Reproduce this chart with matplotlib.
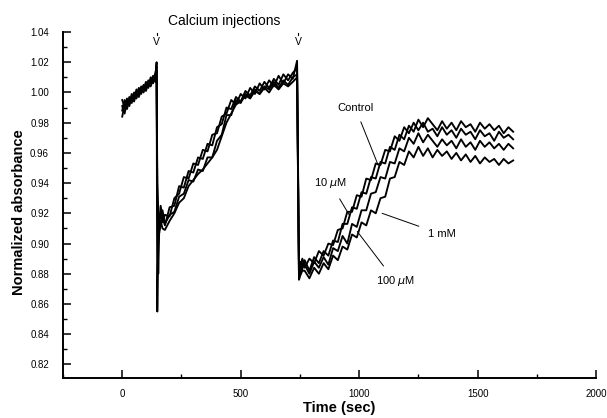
import matplotlib
matplotlib.use("Agg")
import matplotlib.pyplot as plt
from matplotlib.ticker import MultipleLocator, FormatStrFormatter

plt.rcParams['font.family'] = ['Liberation Sans', 'DejaVu Sans']

# Sampling times (sec)
time = [0, 10, 20, 30, 40, 50, 60, 70, 80, 90, 100, 110, 120, 130, 140, 145,
        148, 152, 156, 162, 170,
        180, 200, 220, 240, 260, 280, 300, 320, 340, 360, 380, 400, 420, 440,
        460, 480, 500, 520, 540, 560, 580, 600, 620, 640, 660, 680, 700, 720,
        738,
        746, 752, 760,
        770, 790, 810, 830, 850, 870, 890, 910, 930, 950, 970, 990, 1010, 1030,
        1050, 1070, 1090, 1110, 1130, 1150, 1170, 1190, 1210, 1230, 1250, 1270,
        1290, 1310, 1330, 1350, 1370, 1390, 1410, 1430, 1450, 1470, 1490, 1510,
        1530, 1550, 1570, 1590, 1610, 1630, 1650]

control = [0.988, 0.995, 0.992, 0.997, 0.995, 1.000, 0.998, 1.003, 1.001, 1.005, 1.003, 1.008, 1.006, 1.011, 1.010, 1.020,
           0.940, 0.922, 0.915, 0.920, 0.914,
           0.919, 0.918, 0.930, 0.933, 0.944, 0.943, 0.953, 0.952, 0.962, 0.961, 0.972, 0.973, 0.984, 0.986,
           0.995, 0.992, 0.999, 0.996, 1.003, 0.999, 1.006, 1.002, 1.008, 1.004, 1.011, 1.006, 1.012, 1.009,
           1.021,
           0.885, 0.880, 0.887,
           0.884, 0.890, 0.887, 0.895, 0.892, 0.900, 0.899, 0.909, 0.910, 0.921, 0.921, 0.932, 0.931, 0.943,
           0.942, 0.953, 0.952, 0.962, 0.961, 0.971, 0.968, 0.977, 0.973, 0.980, 0.975, 0.980,
           0.974, 0.976, 0.971, 0.977, 0.972, 0.975, 0.970, 0.976, 0.972, 0.974, 0.969, 0.975,
           0.971, 0.973, 0.968, 0.974, 0.970, 0.972, 0.969]

um10 = [0.995, 0.990, 0.996, 0.993, 0.999, 0.996, 1.002, 0.999, 1.004, 1.002, 1.007, 1.004, 1.010, 1.008, 1.013, 1.017,
        0.855, 0.905, 0.912, 0.925, 0.918,
        0.912, 0.924, 0.925, 0.938, 0.937, 0.948, 0.947, 0.957, 0.956, 0.966, 0.965, 0.977, 0.979, 0.990,
        0.989, 0.997, 0.994, 1.001, 0.998, 1.004, 1.001, 1.007, 1.003, 1.009, 1.005, 1.012, 1.008, 1.013,
        1.016,
        0.880, 0.888, 0.883,
        0.889, 0.882, 0.891, 0.887, 0.895, 0.892, 0.902, 0.901, 0.913, 0.913, 0.924, 0.923, 0.934, 0.933,
        0.944, 0.943, 0.954, 0.953, 0.964, 0.962, 0.972, 0.969, 0.978, 0.974, 0.982, 0.977,
        0.983, 0.979, 0.975, 0.981, 0.976, 0.980, 0.975, 0.981, 0.977, 0.979, 0.974, 0.980,
        0.976, 0.979, 0.975, 0.978, 0.973, 0.977, 0.974]

um100 = [0.984, 0.992, 0.989, 0.995, 0.993, 0.998, 0.996, 1.001, 0.999, 1.004, 1.001, 1.006, 1.004, 1.009, 1.007, 1.014,
         0.930, 0.880, 0.908, 0.912, 0.922,
         0.913, 0.919, 0.921, 0.931, 0.933, 0.942, 0.941, 0.949, 0.948, 0.957, 0.957, 0.968, 0.972, 0.985,
         0.985, 0.995, 0.993, 0.999, 0.997, 1.002, 0.999, 1.004, 1.002, 1.007, 1.003, 1.008, 1.005, 1.010,
         1.012,
         0.878, 0.884, 0.890,
         0.886, 0.880, 0.888, 0.884, 0.891, 0.886, 0.897, 0.895, 0.905, 0.900, 0.913, 0.911, 0.922, 0.922,
         0.933, 0.934, 0.944, 0.943, 0.954, 0.953, 0.963, 0.961, 0.970, 0.966, 0.973, 0.967,
         0.972, 0.968, 0.964, 0.969, 0.965, 0.968, 0.963, 0.969, 0.964, 0.967, 0.962, 0.968,
         0.964, 0.967, 0.963, 0.966, 0.962, 0.966, 0.963]

mm1 = [0.991, 0.986, 0.994, 0.991, 0.997, 0.994, 1.000, 0.997, 1.002, 1.000, 1.005, 1.003, 1.008, 1.006, 1.011, 1.015,
       0.925, 0.912, 0.907, 0.915, 0.910,
       0.909, 0.915, 0.920, 0.927, 0.930, 0.938, 0.942, 0.946, 0.949, 0.953, 0.957, 0.962, 0.971, 0.980,
       0.986, 0.992, 0.994, 0.998, 0.996, 1.001, 0.999, 1.003, 1.000, 1.005, 1.002, 1.006, 1.004, 1.007,
       1.010,
       0.876, 0.879, 0.882,
       0.882, 0.877, 0.884, 0.880, 0.887, 0.883, 0.892, 0.889, 0.898, 0.896, 0.906, 0.904, 0.914, 0.912,
       0.922, 0.920, 0.930, 0.931, 0.943, 0.944, 0.954, 0.952, 0.961, 0.957, 0.964, 0.958,
       0.963, 0.957, 0.962, 0.958, 0.961, 0.956, 0.960, 0.955, 0.959, 0.954, 0.958, 0.953,
       0.957, 0.954, 0.956, 0.952, 0.956, 0.953, 0.955]

series = [control, um10, um100, mm1]

fig = plt.figure(figsize=(6.07, 4.18), dpi=100)
ax = fig.add_axes([0.1038, 0.0957, 0.8782, 0.8277])

for s in series:
    ax.plot(time, s, color='black', lw=1.35)

ax.set_xlim(-250, 2000)
ax.set_ylim(0.811, 1.04)

ax.spines['top'].set_visible(False)
ax.spines['right'].set_visible(False)
ax.spines['left'].set_linewidth(1.4)
ax.spines['bottom'].set_linewidth(1.4)

ax.xaxis.set_major_locator(MultipleLocator(500))
ax.xaxis.set_minor_locator(MultipleLocator(250))
ax.yaxis.set_major_locator(MultipleLocator(0.02))
ax.yaxis.set_minor_locator(MultipleLocator(0.01))
ax.yaxis.set_major_formatter(FormatStrFormatter('%.2f'))
ax.set_yticks([0.82 + 0.02 * i for i in range(12)])
ax.tick_params(which='major', direction='in', length=6, width=1.1, labelsize=7)
ax.tick_params(axis='y', which='major', pad=10)
ax.tick_params(axis='x', which='major', pad=8)
ax.tick_params(which='minor', direction='in', length=3, width=1.0)

ax.set_xlabel('Time (sec)', fontsize=10.5, fontweight='bold')
ax.set_ylabel('Normalized absorbance', fontsize=10.5, fontweight='bold')
ax.xaxis.set_label_coords(0.518, -0.066)
ax.yaxis.set_label_coords(-0.069, 0.48)

# Injection markers
ax.text(430, 1.0473, 'Calcium injections', fontsize=10, ha='center', va='center', clip_on=False)
for t in (145, 743):
    ax.text(t, 1.0335, 'V', fontsize=7.5, ha='center', va='center', clip_on=False)
    ax.plot([t, t], [1.0378, 1.0392], color='black', lw=0.8, clip_on=False)

# Labels with leader lines
ax.annotate('Control', xy=(1080, 0.952), xytext=(983, 0.990), fontsize=8,
            ha='center', va='center',
            arrowprops=dict(arrowstyle='-', lw=0.7, color='black', shrinkA=5, shrinkB=0))
ax.annotate('10 $\\mu$M', xy=(958, 0.919), xytext=(878, 0.940), fontsize=8,
            ha='center', va='center',
            arrowprops=dict(arrowstyle='-', lw=0.7, color='black', shrinkA=5, shrinkB=0))
ax.annotate('1 mM', xy=(1097, 0.920), xytext=(1350, 0.906), fontsize=8,
            ha='center', va='center',
            arrowprops=dict(arrowstyle='-', lw=0.7, color='black', shrinkA=5, shrinkB=0))
ax.annotate('100 $\\mu$M', xy=(992, 0.908), xytext=(1152, 0.875), fontsize=8,
            ha='center', va='center',
            arrowprops=dict(arrowstyle='-', lw=0.7, color='black', shrinkA=5, shrinkB=0))

fig.savefig('out.png', dpi=100)
